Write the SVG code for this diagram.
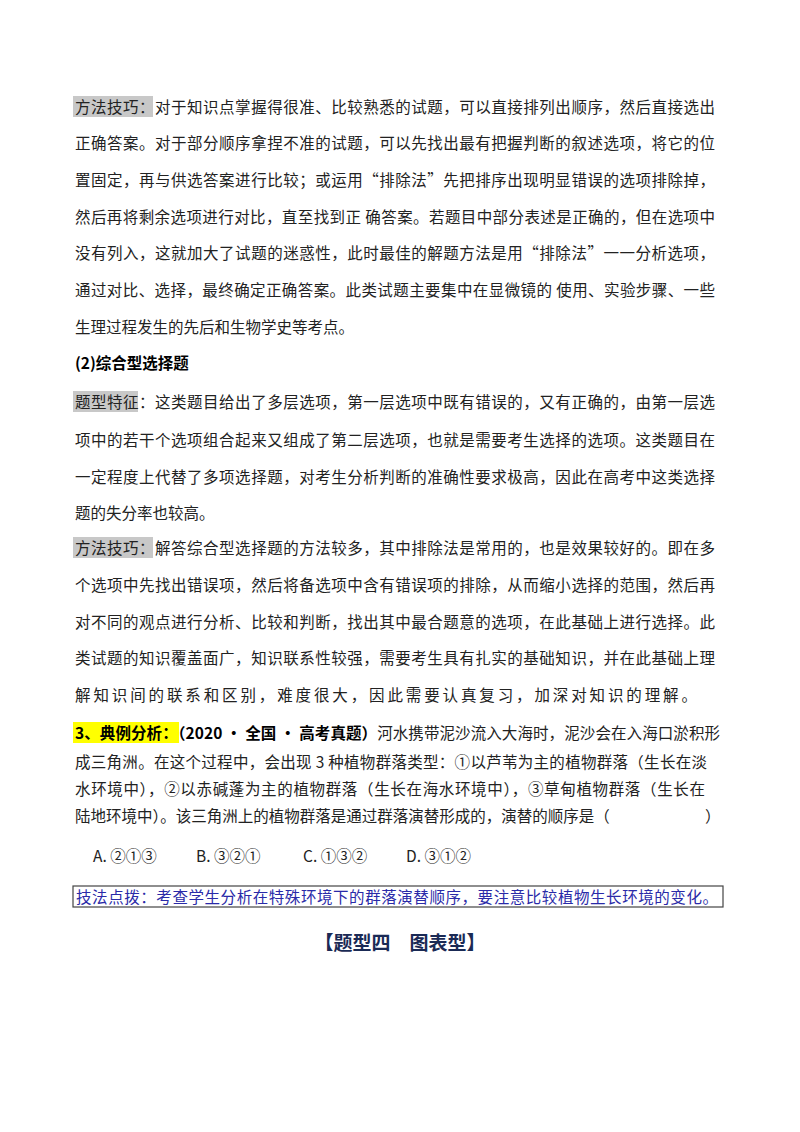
<svg xmlns="http://www.w3.org/2000/svg" width="800" height="1132" viewBox="0 0 800 1132">
<style>
.t{font-family:"Noto Sans CJK SC","Liberation Sans",sans-serif;font-size:15.5px;fill:#222}
.b{font-weight:bold;fill:#000}
.blue{fill:#2a2aa8}
</style>
<rect width="800" height="1132" fill="#fff"/>
<rect x="73" y="96" width="80" height="21" fill="#c8c8c8"/>
<rect x="73" y="391" width="65" height="21" fill="#c8c8c8"/>
<rect x="73" y="537" width="80" height="21" fill="#c8c8c8"/>
<rect x="73" y="722" width="106" height="21" fill="#ffff00"/>
<g class="t">
<text x="75" y="113" textLength="640" lengthAdjust="spacing">方法技巧：对于知识点掌握得很准、比较熟悉的试题，可以直接排列出顺序，然后直接选出</text>
<text x="75" y="149" textLength="640" lengthAdjust="spacing">正确答案。对于部分顺序拿捏不准的试题，可以先找出最有把握判断的叙述选项，将它的位</text>
<text x="75" y="186" textLength="640" lengthAdjust="spacing">置固定，再与供选答案进行比较；或运用“排除法”先把排序出现明显错误的选项排除掉，</text>
<text x="75" y="223" textLength="640" lengthAdjust="spacing">然后再将剩余选项进行对比，直至找到正 确答案。若题目中部分表述是正确的，但在选项中</text>
<text x="75" y="259" textLength="640" lengthAdjust="spacing">没有列入，这就加大了试题的迷惑性，此时最佳的解题方法是用“排除法”一一分析选项，</text>
<text x="75" y="296" textLength="640" lengthAdjust="spacing">通过对比、选择，最终确定正确答案。此类试题主要集中在显微镜的 使用、实验步骤、一些</text>
<text x="75" y="333">生理过程发生的先后和生物学史等考点。</text>
<text x="75" y="369" class="b">(2)综合型选择题</text>
<text x="75" y="408" textLength="640" lengthAdjust="spacing">题型特征：这类题目给出了多层选项，第一层选项中既有错误的，又有正确的，由第一层选</text>
<text x="75" y="446" textLength="640" lengthAdjust="spacing">项中的若干个选项组合起来又组成了第二层选项，也就是需要考生选择的选项。这类题目在</text>
<text x="75" y="483" textLength="640" lengthAdjust="spacing">一定程度上代替了多项选择题，对考生分析判断的准确性要求极高，因此在高考中这类选择</text>
<text x="75" y="519">题的失分率也较高。</text>
<text x="75" y="554" textLength="640" lengthAdjust="spacing">方法技巧：解答综合型选择题的方法较多，其中排除法是常用的，也是效果较好的。即在多</text>
<text x="75" y="591" textLength="640" lengthAdjust="spacing">个选项中先找出错误项，然后将备选项中含有错误项的排除，从而缩小选择的范围，然后再</text>
<text x="75" y="628" textLength="640" lengthAdjust="spacing">对不同的观点进行分析、比较和判断，找出其中最合题意的选项，在此基础上进行选择。此</text>
<text x="75" y="664" textLength="640" lengthAdjust="spacing">类试题的知识覆盖面广，知识联系性较强，需要考生具有扎实的基础知识，并在此基础上理</text>
<text x="75" y="701" textLength="622" lengthAdjust="spacing">解知识间的联系和区别，难度很大，因此需要认真复习，加深对知识的理解。</text>
<text x="75" y="739" textLength="645" lengthAdjust="spacing"><tspan class="b">3、典例分析：（2020 • 全国 • 高考真题）</tspan>河水携带泥沙流入大海时，泥沙会在入海口淤积形</text>
<text x="75" y="768" textLength="632" lengthAdjust="spacing">成三角洲。在这个过程中，会出现 3 种植物群落类型：①以芦苇为主的植物群落（生长在淡</text>
<text x="75" y="795" textLength="630" lengthAdjust="spacing">水环境中），②以赤碱蓬为主的植物群落（生长在海水环境中），③草甸植物群落（生长在</text>
<text x="75" y="822">陆地环境中）。该三角洲上的植物群落是通过群落演替形成的，演替的顺序是（<tspan x="705">）</tspan></text>
<text x="93" y="862">A. ②①③<tspan x="196">B. ③②①</tspan><tspan x="303">C. ①③②</tspan><tspan x="406">D. ③①②</tspan></text>
<text x="76" y="903" class="blue" textLength="642" lengthAdjust="spacing">技法点拨：考查学生分析在特殊环境下的群落演替顺序，要注意比较植物生长环境的变化。</text>
<text x="400" y="950" text-anchor="middle" style="font-size:19px;font-weight:bold;fill:#1a2a55">【题型四　图表型】</text>
</g>
<rect x="73" y="886" width="650" height="21" fill="none" stroke="#444" stroke-width="1.2"/>
</svg>
